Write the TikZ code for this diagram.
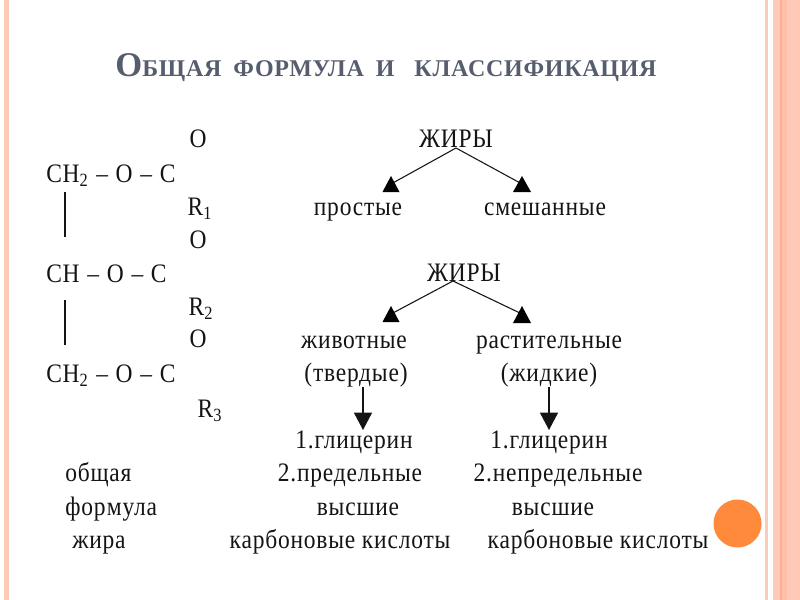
\documentclass[tikz,border=0pt]{standalone}
\usepackage{fontspec}
\setmainfont{Liberation Serif}
\newfontfamily\lab[FakeStretch=0.88,LetterSpace=3]{Liberation Serif}
\newfontfamily\ttl[LetterSpace=3,BoldFont={Liberation Serif Bold}]{Liberation Serif}
\usetikzlibrary{arrows.meta}
\definecolor{band}{HTML}{FFC9B8}
\definecolor{bandm}{HTML}{FFC0AA}
\definecolor{bandd}{HTML}{FBB095}
\definecolor{dot}{HTML}{FF8A3C}
\definecolor{ink}{HTML}{141414}
\definecolor{ttlc}{HTML}{565E6E}
\newcommand{\fdash}{\hspace{0.8pt} – \hspace{0.8pt}}
\newcommand{\wgap}{\hspace{9pt}}
\tikzset{
 x=0.75pt,y=-0.75pt,
 tx/.style={inner sep=0pt,text=ink,font=\fontsize{20}{20}\selectfont\lab,anchor=base},
 tl/.style={tx,anchor=base west},
 big/.style={tx},
 arr/.style={draw=ink,line width=0.8pt},
 darr/.style={draw=ink,line width=0.8pt,-{Triangle[length=13pt,width=13.5pt]}},
 bond/.style={draw=ink,line width=0.8pt},
 head/.style={fill=black},
}
\begin{document}
\begin{tikzpicture}
\useasboundingbox (0,0) rectangle (800,600);
\fill[white] (0,0) rectangle (800,600);
\fill[band] (4,0) rectangle (9,600);
\fill[band] (765,0) rectangle (768,600);
\fill[band] (773,0) rectangle (800,600);
\fill[bandm] (780,0) rectangle (787,600);
\fill[bandd] (780,0) rectangle (781.5,600);
\fill[dot] (737.5,523.5) circle (24);
\node[inner sep=0pt,anchor=base,text=ttlc] (title) at (386,76)
 {\ttl\bfseries\fontsize{18}{18}\selectfont{\fontsize{26}{26}\selectfont О}БЩАЯ\wgap ФОРМУЛА\wgap И\wgap\hspace{6pt}КЛАССИФИКАЦИЯ};
% formula
\node[tx] (o1) at (198,147) {O};
\node[tl] (l1) at (46,182) {CH\textsubscript{2}\fdash O\fdash C};
\node[tx] (r1) at (200,215) {R\textsubscript{1}};
\node[tx] (o2) at (198,248) {O};
\node[tl] (l2) at (46,282) {CH\fdash O\fdash C};
\node[tx] (r2) at (201,315) {R\textsubscript{2}};
\node[tx] (o3) at (198,347) {O};
\node[tl] (l3) at (46,382) {CH\textsubscript{2}\fdash O\fdash C};
\node[tx] (r3) at (210,417) {R\textsubscript{3}};
\coordinate (b1a) at (65,192); \coordinate (b1b) at (65,237);
\coordinate (b2a) at (65,300); \coordinate (b2b) at (65,345);
\draw[bond] (b1a) -- (b1b);
\draw[bond] (b2a) -- (b2b);
% tree 1
\node[big] (z1) at (456,147) {ЖИРЫ};
\node[tx] (p) at (358,215) {простые};
\node[tx] (s) at (545,215) {смешанные};
\coordinate (z1c) at (456,148);
\coordinate (pa) at (391,184); \coordinate (sa) at (522,184);
\draw[arr] (z1c) -- (pa);
\draw[arr] (z1c) -- (sa);
\fill[head] (391,176) -- (382.5,192) -- (399.5,192) -- cycle;
\fill[head] (522,176) -- (513,192) -- (531,192) -- cycle;
% tree 2
\node[big] (z2) at (464,281) {ЖИРЫ};
\node[tx] (zh) at (354,348) {животные};
\node[tx] (ra) at (549,348) {растительные};
\node[tx] (tv) at (356,381) {(твердые)};
\node[tx] (zk) at (549,381) {(жидкие)};
\coordinate (z2c) at (453,281);
\coordinate (zha) at (391,314); \coordinate (raa) at (522,314);
\draw[arr] (z2c) -- (zha);
\draw[arr] (z2c) -- (raa);
\fill[head] (391,306) -- (382.5,322) -- (399.5,322) -- cycle;
\fill[head] (522,306) -- (513,323) -- (531,323) -- cycle;
\coordinate (tva) at (363,387); \coordinate (tvb) at (363,430);
\coordinate (zka) at (549,387); \coordinate (zkb) at (549,430);
\draw[darr] (tva) -- (tvb);
\draw[darr] (zka) -- (zkb);
% lower text
\node[tx] (g1) at (354,448) {1.глицерин};
\node[tx] (g2) at (549,448) {1.глицерин};
\node[tx] (n1) at (350,481) {2.предельные};
\node[tx] (n2) at (558,481) {2.непредельные};
\node[tx] (v1) at (358,515) {высшие};
\node[tx] (v2) at (553,515) {высшие};
\node[tx] (k1) at (340,548) {карбоновые кислоты};
\node[tx] (k2) at (598,548) {карбоновые кислоты};
\node[tl] (f1) at (65,481) {общая};
\node[tl] (f2) at (65,515) {фор\hspace{1pt}мула};
\node[tl] (f3) at (72,548) {жира};
\end{tikzpicture}
\end{document}
